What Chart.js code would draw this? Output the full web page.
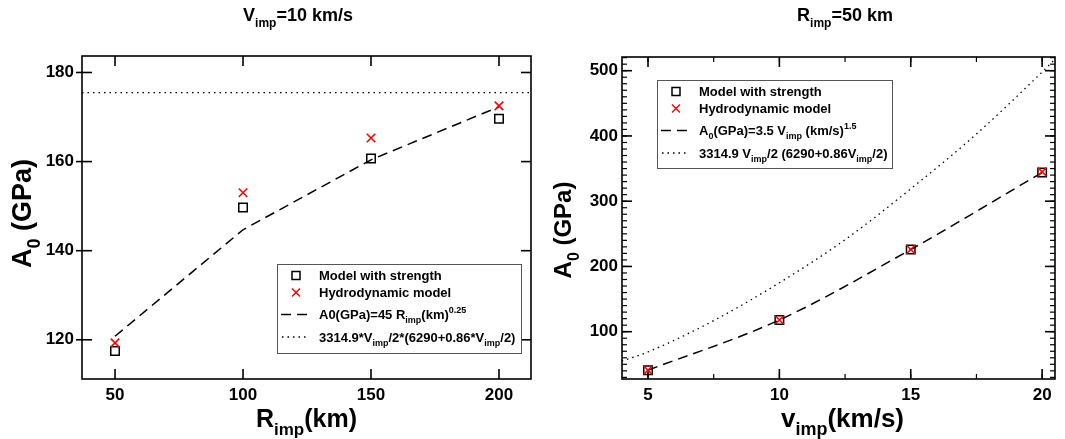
<!DOCTYPE html>
<html>
<head>
<meta charset="utf-8">
<script src="https://cdn.jsdelivr.net/npm/chart.js@4.4.1/dist/chart.umd.min.js"></script>
<style>
  html, body { margin: 0; padding: 0; background: #fff; }
  #wrap { position: relative; width: 1065px; height: 439px; overflow: hidden; }
  canvas { position: absolute; top: 0; }
  #left { left: 0; }
  #right { left: 540px; }
</style>
</head>
<body>
<div id="wrap">
  <canvas id="left" width="540" height="439"></canvas>
  <canvas id="right" width="525" height="439"></canvas>
</div>
<script>
// ----------------------------------------------------
// Data
// ----------------------------------------------------
// left panel: V_imp = 10 km/s, A0 against R_imp
const radiusKm = [50, 100, 150, 200];
const strengthLeft = [117.5, 149.7, 160.7, 169.6];
const hydroLeft = [119.3, 153.0, 165.3, 172.5];
const fitLeft = [120.8, 144.7, 160.4, 172.3];
const theoryLeftR = [37.1, 212.5];
const theoryLeft = [175.5, 175.5];
const leftTicksX = [50, 100, 150, 200];
const leftTicksY = [120, 140, 160, 180];

// right panel: R_imp = 50 km, A0 against v_imp
const velocity = [5, 10, 15, 20];
const strengthRight = [41, 118, 226, 344];
const hydroRight = [41, 118, 226, 345];
const fitRight = [41, 118, 226, 344];
const theoryRightV = [4.0, 5, 7.5, 10, 12.5, 15, 17.5, 20, 20.5];
const theoryRight = [55, 69, 117, 175, 241, 319, 403, 498, 518];
const rightTicksX = [5, 10, 15, 20];
const rightTicksY = [100, 200, 300, 400, 500];

const FONT = '"Liberation Sans", Arial, Helvetica, sans-serif';

const pts = (xs, ys) => xs.map((x, i) => ({ x: x, y: ys[i] }));

// ----------------------------------------------------
// Text with sub/superscripts
// ----------------------------------------------------
function drawRich(ctx, parts, x, y, size, align) {
    const small = Math.round(size * 0.68);
    let w = 0;
    parts.forEach(p => {
        ctx.font = `bold ${p[1] ? small : size}px ${FONT}`;
        w += ctx.measureText(p[0]).width;
    });
    let cx = align === 'center' ? x - w / 2 : x;
    ctx.textAlign = 'left';
    ctx.textBaseline = 'alphabetic';
    parts.forEach(p => {
        ctx.font = `bold ${p[1] ? small : size}px ${FONT}`;
        let dy = 0;
        if (p[1] === 'sub') dy = size * 0.32;
        if (p[1] === 'sup') dy = -size * 0.48;
        ctx.fillText(p[0], cx, y + dy);
        cx += ctx.measureText(p[0]).width;
    });
}

function seg(ctx, x1, y1, x2, y2) {
    ctx.beginPath();
    ctx.moveTo(x1, y1);
    ctx.lineTo(x2, y2);
    ctx.stroke();
}

// ----------------------------------------------------
// Frame, inward ticks, titles and legend
// ----------------------------------------------------
const decorPlugin = {
    id: 'decor',
    beforeDatasetsDraw(chart, args, o) {
        const { ctx, chartArea: a, scales } = chart;
        ctx.save();
        ctx.strokeStyle = '#000';
        ctx.lineWidth = 1.6;
        ctx.strokeRect(a.left, a.top, a.right - a.left, a.bottom - a.top);

        scales.x.ticks.forEach(t => {
            const px = scales.x.getPixelForValue(t.value);
            seg(ctx, px, a.bottom, px, a.bottom - o.major);
            seg(ctx, px, a.top, px, a.top + o.major);
        });
        scales.y.ticks.forEach(t => {
            const py = scales.y.getPixelForValue(t.value);
            seg(ctx, a.left - o.out, py, a.left + o.major, py);
            seg(ctx, a.right, py, a.right - o.major, py);
        });

        ctx.lineWidth = 1.2;
        if (o.minorX) {
            for (let v = Math.ceil(scales.x.min / o.minorX) * o.minorX; v <= scales.x.max; v += o.minorX) {
                const px = scales.x.getPixelForValue(v);
                seg(ctx, px, a.bottom, px, a.bottom - o.minor);
                seg(ctx, px, a.top, px, a.top + o.minor);
            }
        }
        if (o.minorY) {
            for (let v = Math.ceil(scales.y.min / o.minorY) * o.minorY; v <= scales.y.max; v += o.minorY) {
                const py = scales.y.getPixelForValue(v);
                seg(ctx, a.left, py, a.left + o.minor, py);
                seg(ctx, a.right, py, a.right - o.minor, py);
            }
        }
        ctx.restore();
    },
    afterDraw(chart, args, o) {
        const { ctx, chartArea: a } = chart;
        ctx.save();
        ctx.fillStyle = '#000';

        // panel title
        drawRich(ctx, o.title, o.titleX, 21, 18, 'center');

        // axis titles
        drawRich(ctx, o.xTitle, (a.left + a.right) / 2 + o.xTitleShift, 427, o.xSize, 'center');
        ctx.save();
        ctx.translate(31, (a.top + a.bottom) / 2 + o.yTitleShift);
        ctx.rotate(-Math.PI / 2);
        drawRich(ctx, o.yTitle, 0, 0, o.ySize, 'center');
        ctx.restore();

        // legend
        const L = o.legend;
        const bx = a.left + L.dx, by = a.top + L.dy;
        ctx.fillStyle = '#fff';
        ctx.fillRect(bx, by, L.w, L.h);
        ctx.strokeStyle = '#555';
        ctx.lineWidth = 1;
        ctx.strokeRect(bx + 0.5, by + 0.5, L.w, L.h);

        const rows = [11.5, 28.5, 50.5, 73];
        L.items.forEach((it, i) => {
            const cy = by + rows[i];
            const sx = bx + 19;
            ctx.lineWidth = 1.5;
            if (it.sym === 'square') {
                ctx.strokeStyle = '#000';
                ctx.strokeRect(sx - 4, cy - 4, 8, 8);
            } else if (it.sym === 'cross') {
                ctx.strokeStyle = '#ff0000';
                seg(ctx, sx - 4, cy - 4, sx + 4, cy + 4);
                seg(ctx, sx - 4, cy + 4, sx + 4, cy - 4);
            } else if (it.sym === 'dash') {
                ctx.strokeStyle = '#000';
                ctx.setLineDash([10, 6]);
                seg(ctx, bx + 4, cy, bx + 31, cy);
                ctx.setLineDash([]);
            } else {
                ctx.strokeStyle = '#000';
                ctx.lineWidth = 1.3;
                ctx.setLineDash([1.5, 4]);
                seg(ctx, bx + 5, cy, bx + 31, cy);
                ctx.setLineDash([]);
            }
            ctx.fillStyle = '#000';
            drawRich(ctx, it.parts, bx + 42, cy + 4.5, 13, 'left');
        });
        ctx.restore();
    }
};

// ----------------------------------------------------
// Chart builder
// ----------------------------------------------------
const makeChart = (canvasId, cfg) => {
    const ctx = document.getElementById(canvasId);
    return new Chart(ctx, {
        type: 'scatter',
        data: {
            datasets: [
                {
                    label: 'Hydrodynamic model',
                    data: cfg.hydro,
                    pointStyle: 'crossRot',
                    pointRadius: 6,
                    borderColor: '#ff0000',
                    borderWidth: 1.6,
                    showLine: false
                },
                {
                    label: 'Model with strength',
                    data: cfg.strength,
                    pointStyle: 'rect',
                    pointRadius: 6,
                    borderColor: '#000',
                    backgroundColor: 'rgba(0,0,0,0)',
                    borderWidth: 1.5,
                    showLine: false
                },
                {
                    label: 'fit',
                    data: cfg.fit,
                    showLine: true,
                    pointRadius: 0,
                    borderColor: '#000',
                    borderWidth: 1.5,
                    borderDash: [10, 6],
                    cubicInterpolationMode: cfg.smooth ? 'monotone' : 'default',
                    fill: false
                },
                {
                    label: 'theory',
                    data: cfg.theory,
                    showLine: true,
                    pointRadius: 0,
                    borderColor: '#000',
                    borderWidth: 1.3,
                    borderDash: [1.5, 4],
                    cubicInterpolationMode: 'monotone',
                    fill: false
                }
            ]
        },
        options: {
            responsive: false,
            animation: false,
            devicePixelRatio: 1,
            layout: { padding: { top: cfg.top, right: cfg.right, left: 0, bottom: 0 } },
            scales: {
                x: {
                    type: 'linear',
                    min: cfg.xMin,
                    max: cfg.xMax,
                    grid: { display: false, drawTicks: false },
                    border: { display: false },
                    afterBuildTicks: s => { s.ticks = cfg.ticksX.map(v => ({ value: v })); },
                    afterFit: s => { s.height = 60; },
                    ticks: {
                        color: '#000',
                        padding: 6,
                        maxRotation: 0,
                        font: { family: FONT, size: 17, weight: 'bold' }
                    }
                },
                y: {
                    type: 'linear',
                    min: cfg.yMin,
                    max: cfg.yMax,
                    grid: { display: false, drawTicks: false },
                    border: { display: false },
                    afterBuildTicks: s => { s.ticks = cfg.ticksY.map(v => ({ value: v })); },
                    afterFit: s => { s.width = 82; },
                    ticks: {
                        color: '#000',
                        padding: cfg.yPad,
                        font: { family: FONT, size: 17, weight: 'bold' }
                    }
                }
            },
            plugins: {
                legend: { display: false },
                tooltip: { enabled: false },
                decor: cfg.decor
            }
        },
        plugins: [decorPlugin]
    });
};

makeChart('left', {
    hydro: pts(radiusKm, hydroLeft),
    strength: pts(radiusKm, strengthLeft),
    fit: pts(radiusKm, fitLeft),
    theory: pts(theoryLeftR, theoryLeft),
    smooth: false,
    top: 56, right: 9, yPad: 8,
    xMin: 37.1, xMax: 212.5, yMin: 111.2, yMax: 183.7,
    ticksX: leftTicksX, ticksY: leftTicksY,
    decor: {
        major: 10, minor: 5, out: 6,
        title: [['V'], ['imp', 'sub'], ['=10 km/s']],
        titleX: 298,
        xTitle: [['R'], ['imp', 'sub'], ['(km)']],
        xTitleShift: 0,
        xSize: 25,
        yTitle: [['A'], ['0', 'sub'], [' (GPa)']],
        yTitleShift: -4,
        ySize: 27,
        legend: {
            dx: 195, dy: 208, w: 244, h: 89,
            items: [
                { sym: 'square', parts: [['Model with strength']] },
                { sym: 'cross', parts: [['Hydrodynamic model']] },
                { sym: 'dash', parts: [['A0(GPa)=45 R'], ['imp', 'sub'], ['(km)'], ['0.25', 'sup']] },
                { sym: 'dot', parts: [['3314.9*V'], ['imp', 'sub'], ['/2*(6290+0.86*V'], ['imp', 'sub'], ['/2)']] }
            ]
        }
    }
});

makeChart('right', {
    hydro: pts(velocity, hydroRight),
    strength: pts(velocity, strengthRight),
    fit: pts(velocity, fitRight),
    theory: pts(theoryRightV, theoryRight),
    smooth: true,
    top: 57, right: 10, yPad: 4,
    xMin: 4.01, xMax: 20.49, yMin: 27.5, yMax: 521,
    ticksX: rightTicksX, ticksY: rightTicksY,
    decor: {
        major: 10, minor: 5, out: 0,
        minorX: 2.5, minorY: 10,
        title: [['R'], ['imp', 'sub'], ['=50 km']],
        titleX: 305,
        xTitle: [['v'], ['imp', 'sub'], ['(km/s)']],
        xTitleShift: 4,
        xSize: 26,
        yTitle: [['A'], ['0', 'sub'], [' (GPa)']],
        yTitleShift: 12,
        ySize: 24,
        legend: {
            dx: 35, dy: 23, w: 235, h: 88,
            items: [
                { sym: 'square', parts: [['Model with strength']] },
                { sym: 'cross', parts: [['Hydrodynamic model']] },
                { sym: 'dash', parts: [['A'], ['0', 'sub'], ['(GPa)=3.5 V'], ['imp', 'sub'], [' (km/s)'], ['1.5', 'sup']] },
                { sym: 'dot', parts: [['3314.9 V'], ['imp', 'sub'], ['/2 (6290+0.86V'], ['imp', 'sub'], ['/2)']] }
            ]
        }
    }
});
</script>
</body>
</html>
